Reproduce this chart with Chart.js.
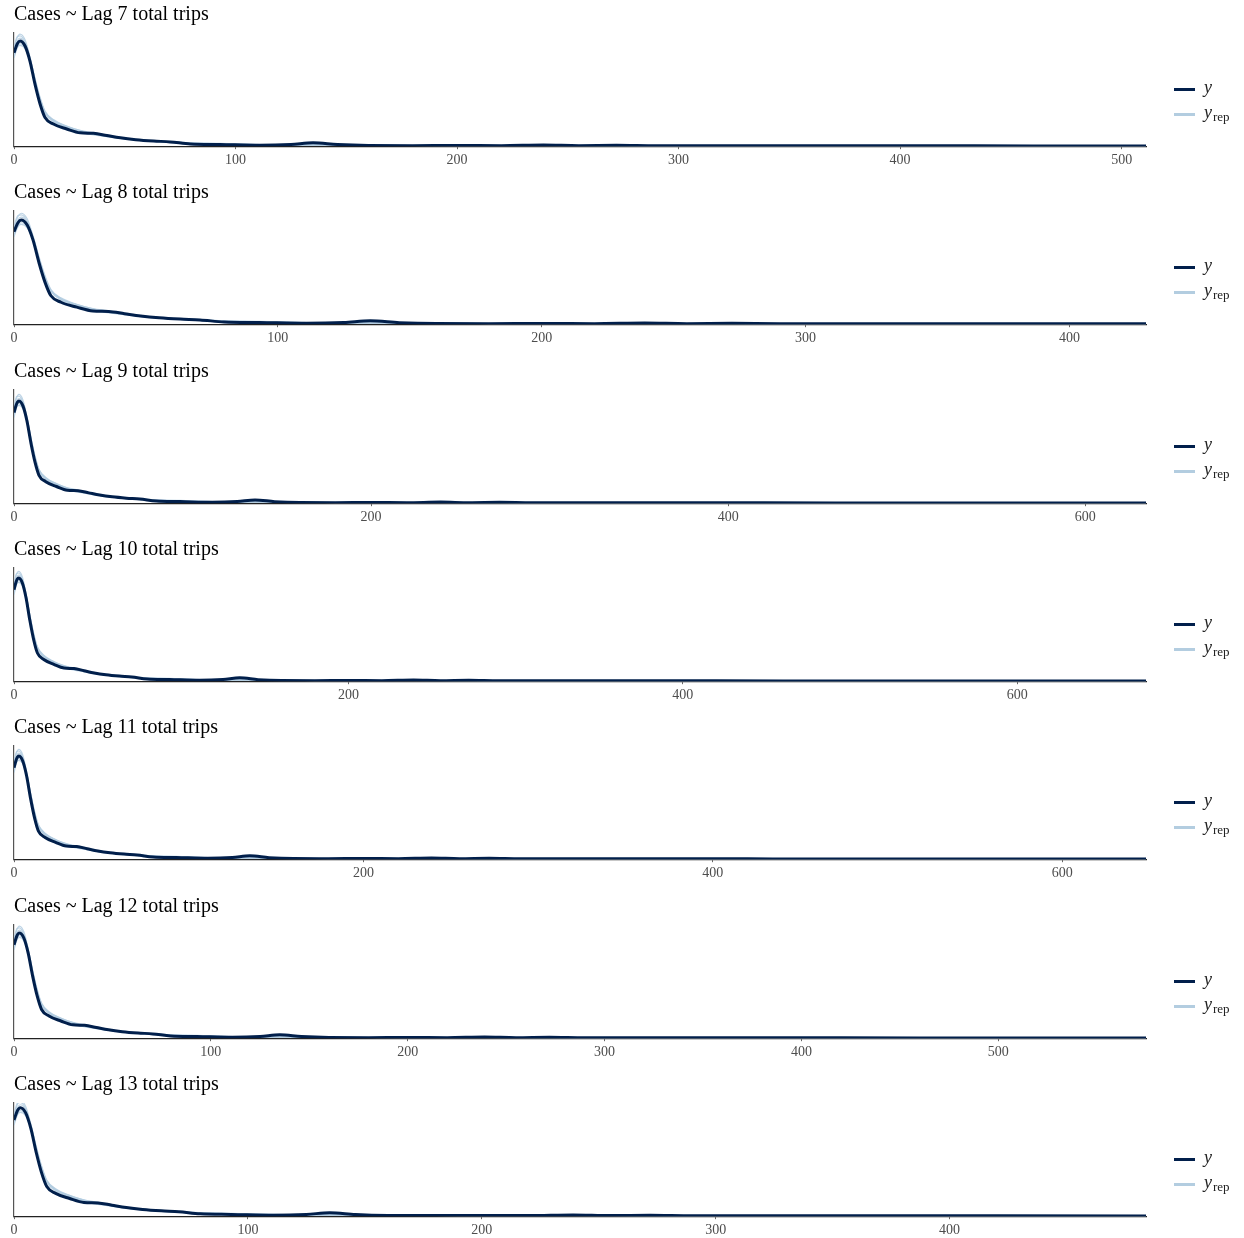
<!DOCTYPE html>
<html>
<head>
<meta charset="utf-8">
<script src="https://cdn.jsdelivr.net/npm/chart.js@4.4.1/dist/chart.umd.min.js"></script>
<style>
  html, body { margin: 0; padding: 0; background: #fff; overflow: hidden; }
  body { width: 1244px; height: 1238px; position: relative; }
  .panel { position: absolute; left: 0; width: 1244px; height: 178px; }
  .panel canvas { position: absolute; left: 0; top: 0; }
  .leg-line { position: absolute; left: 1174px; width: 21px; height: 3px; }
  .leg-text { position: absolute; left: 1204px; font-family: "Liberation Serif", "DejaVu Serif", serif; font-style: italic; font-size: 18px; line-height: 18px; color: #222; }
  .leg-text sub { font-style: normal; font-size: 13px; vertical-align: -3px; margin-left: 1px; }
</style>
</head>
<body>
<script>
// ---- data ----
const panelLags = [7, 8, 9, 10, 11, 12, 13];
const panelXMax = [511, 429, 634, 677, 648, 575, 484];
const panelYMax = [1.0, 1.01, 1.03, 1.02, 1.02, 1.0, 0.97];
const panelTicks = [
  [0, 100, 200, 300, 400, 500],
  [0, 100, 200, 300, 400],
  [0, 200, 400, 600],
  [0, 200, 400, 600],
  [0, 200, 400, 600],
  [0, 100, 200, 300, 400, 500],
  [0, 100, 200, 300, 400]
];

// density evaluation points (Cases)
const xGrid = [0, 1.5, 2.7, 5, 7.2, 9.5, 11.8, 14, 17.8, 23.8, 29.9, 35.9, 41.9, 48, 55, 63, 70.5, 79.6, 93, 111, 125, 135, 146, 160, 180, 200, 220, 239, 255, 272, 290, 320, 360, 420, 500, 700];
// observed y density
const yObs = [0.825, 0.905, 0.93, 0.885, 0.752, 0.546, 0.371, 0.254, 0.196, 0.152, 0.118, 0.114, 0.094, 0.074, 0.058, 0.046, 0.038, 0.02, 0.015, 0.008, 0.015, 0.03, 0.014, 0.006, 0.005, 0.006, 0.005, 0.01, 0.005, 0.008, 0.004, 0.004, 0.003, 0.003, 0.002, 0.002];
// replicated densities (yrep draws)
const yRep1 = [0.86, 0.96, 0.99, 0.94, 0.79, 0.59, 0.42, 0.30, 0.225, 0.172, 0.135, 0.115, 0.09, 0.07, 0.055, 0.045, 0.035, 0.028, 0.02, 0.012, 0.01, 0.012, 0.01, 0.008, 0.006, 0.005, 0.005, 0.004, 0.004, 0.004, 0.003, 0.003, 0.003, 0.003, 0.002, 0.002];
const yRep2 = [0.80, 0.88, 0.905, 0.87, 0.76, 0.58, 0.41, 0.30, 0.225, 0.17, 0.128, 0.105, 0.09, 0.075, 0.06, 0.048, 0.04, 0.03, 0.022, 0.015, 0.01, 0.01, 0.008, 0.006, 0.006, 0.005, 0.004, 0.004, 0.004, 0.003, 0.003, 0.003, 0.003, 0.002, 0.002, 0.002];
const yRep3 = [0.84, 0.93, 0.955, 0.91, 0.78, 0.60, 0.43, 0.31, 0.235, 0.178, 0.138, 0.11, 0.085, 0.068, 0.056, 0.047, 0.038, 0.03, 0.025, 0.015, 0.012, 0.015, 0.01, 0.007, 0.006, 0.005, 0.005, 0.004, 0.004, 0.004, 0.003, 0.003, 0.003, 0.002, 0.002, 0.002];
const yRep4 = [0.78, 0.87, 0.89, 0.86, 0.75, 0.57, 0.40, 0.29, 0.215, 0.165, 0.125, 0.10, 0.085, 0.07, 0.058, 0.045, 0.035, 0.025, 0.02, 0.013, 0.01, 0.01, 0.008, 0.006, 0.005, 0.005, 0.004, 0.004, 0.003, 0.003, 0.003, 0.003, 0.002, 0.002, 0.002, 0.002];
const yRep5 = [0.88, 0.97, 0.975, 0.92, 0.77, 0.575, 0.415, 0.305, 0.23, 0.176, 0.14, 0.12, 0.095, 0.072, 0.054, 0.042, 0.033, 0.026, 0.018, 0.011, 0.009, 0.011, 0.009, 0.007, 0.006, 0.005, 0.004, 0.004, 0.004, 0.003, 0.003, 0.003, 0.002, 0.002, 0.002, 0.002];
const yReps = [yRep1, yRep2, yRep3, yRep4, yRep5];

// ---- styles ----
const DARK = '#011f4b';
const LIGHT = 'rgba(179,205,224,0.85)';
const SERIF = '"Liberation Serif", "DejaVu Serif", serif';
const PITCH = 178.3;

function pts(ys) { return xGrid.map((x, i) => ({ x: x, y: ys[i] })); }

panelLags.forEach((lag, k) => {
  const div = document.createElement('div');
  div.className = 'panel';
  div.style.top = Math.round(k * PITCH) + 'px';
  const cv = document.createElement('canvas');
  cv.width = 1244; cv.height = 178;
  div.appendChild(cv);

  // legend (HTML, with subscript)
  const l1 = document.createElement('div');
  l1.className = 'leg-line'; l1.style.top = '88px'; l1.style.background = DARK;
  const t1 = document.createElement('div');
  t1.className = 'leg-text'; t1.style.top = '78px'; t1.textContent = 'y';
  const l2 = document.createElement('div');
  l2.className = 'leg-line'; l2.style.top = '113px'; l2.style.background = '#b3cde0';
  const t2 = document.createElement('div');
  t2.className = 'leg-text'; t2.style.top = '103px'; t2.innerHTML = 'y<sub>rep</sub>';
  div.appendChild(l1); div.appendChild(t1); div.appendChild(l2); div.appendChild(t2);
  document.body.appendChild(div);

  const xmax = panelXMax[k];
  const tickVals = panelTicks[k];
  const datasets = [{
    data: pts(yObs), borderColor: DARK, borderWidth: 3, pointRadius: 0,
    cubicInterpolationMode: 'monotone', fill: false, order: 0
  }];
  yReps.forEach((r) => datasets.push({
    data: pts(r), borderColor: LIGHT, borderWidth: 1.2, pointRadius: 0,
    cubicInterpolationMode: 'monotone', fill: false, order: 1
  }));

  new Chart(cv, {
    type: 'line',
    data: { datasets: datasets },
    options: {
      responsive: false, animation: false, devicePixelRatio: 1,
      layout: { padding: { left: 14, right: 98, top: 0, bottom: 6 } },
      plugins: {
        legend: { display: false }, tooltip: { enabled: false },
        title: {
          display: true, text: 'Cases ~ Lag ' + lag + ' total trips', align: 'start',
          color: '#000', font: { family: SERIF, size: 20, weight: 'normal' },
          padding: { top: 2.5, bottom: 6.5 }
        }
      },
      scales: {
        x: {
          type: 'linear', min: 0, max: xmax,
          ticks: { color: '#4d4d4d', padding: 3, autoSkip: false,
                   font: { family: SERIF, size: 14 }, maxRotation: 0 },
          afterBuildTicks: (s) => { s.ticks = tickVals.map(v => ({ value: v })); },
          grid: { display: true, drawOnChartArea: false, drawTicks: true, tickLength: 3, color: '#666' },
          border: { display: true, color: '#222', width: 1.2 }
        },
        y: {
          type: 'linear', min: 0, max: panelYMax[k],
          ticks: { display: false },
          grid: { display: false, drawTicks: false },
          border: { display: true, color: '#555', width: 1.2 }
        }
      }
    }
  });
});
</script>
</body>
</html>
